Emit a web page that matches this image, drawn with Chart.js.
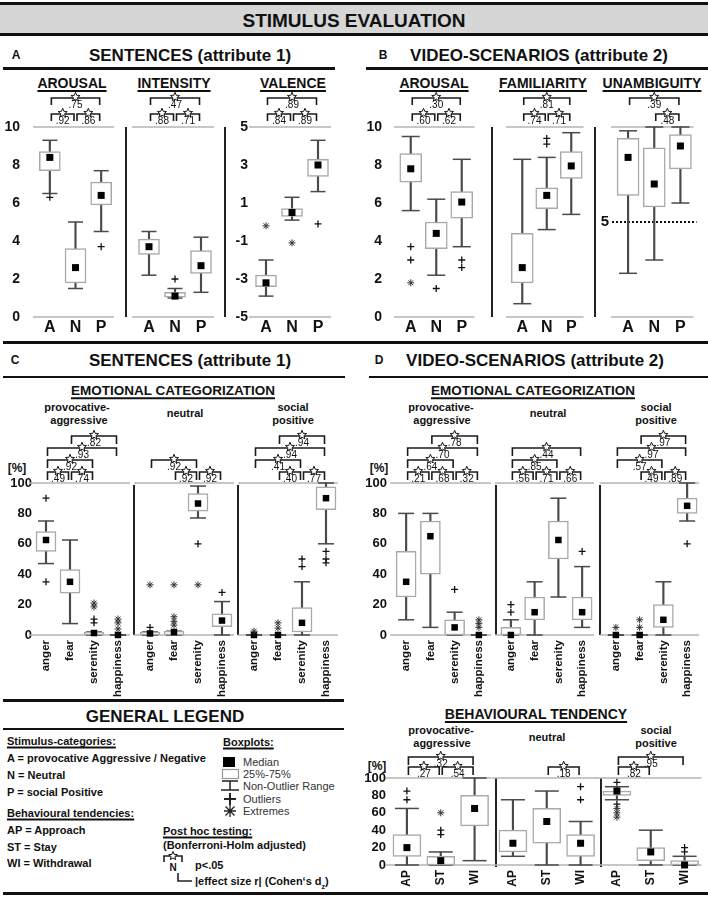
<!DOCTYPE html>
<html>
<head>
<meta charset="utf-8">
<title>Stimulus evaluation</title>
<script src="https://cdn.jsdelivr.net/npm/chart.js@4.4.1/dist/chart.umd.min.js"></script>
<style>
  html, body { margin: 0; padding: 0; background: #fff; }
  #fig { position: relative; width: 708px; height: 898px; overflow: hidden;
         font-family: 'Liberation Sans', Arial, sans-serif; color: #111; }
  .t { position: absolute; white-space: nowrap; transform: translate(-50%, -50%);
       font-weight: bold; line-height: 1; }
  .l { position: absolute; white-space: nowrap; transform: translate(0, -50%);
       font-weight: bold; line-height: 1; font-size: 11px; }
  .r { font-weight: normal; color: #333; }
  .u { text-decoration: underline; text-decoration-thickness: 1.5px; text-underline-offset: 2px; }
  .rule { position: absolute; background: #111; }
  .sep { position: absolute; width: 2px; background: #222; }
  .band { position: absolute; left: 0; top: 2px; width: 708px; height: 28px; background: #d6d6d6;
          border-top: 3px solid #111; border-bottom: 3px solid #111; }
  canvas { position: absolute; }
  svg { position: absolute; left: 0; top: 0; }
</style>
</head>
<body>
<div id="fig">
  <div class="band"></div>
  <div class="t" style="left:354px;top:20px;font-size:19px">STIMULUS EVALUATION</div>

  <!-- A / B headings -->
  <div class="t" style="left:16px;top:55px;font-size:12px">A</div>
  <div class="t" style="left:190px;top:55px;font-size:17px">SENTENCES (attribute 1)</div>
  <div class="t" style="left:383px;top:55px;font-size:12px">B</div>
  <div class="t" style="left:539px;top:55px;font-size:17px">VIDEO-SCENARIOS (attribute 2)</div>
  <div class="rule" style="left:3px;top:67px;width:332px;height:2.5px"></div>
  <div class="rule" style="left:366px;top:67px;width:342px;height:2.5px"></div>

  <div class="t u" style="left:72px;top:83px;font-size:14px">AROUSAL</div>
  <div class="t u" style="left:174px;top:83px;font-size:14px">INTENSITY</div>
  <div class="t u" style="left:293px;top:83px;font-size:14px">VALENCE</div>
  <div class="t u" style="left:434px;top:83px;font-size:14px">AROUSAL</div>
  <div class="t u" style="left:543px;top:83px;font-size:14px">FAMILIARITY</div>
  <div class="t u" style="left:652px;top:83px;font-size:14px">UNAMBIGUITY</div>

  <div class="sep" style="left:125px;top:127px;height:190px"></div>
  <div class="sep" style="left:224px;top:127px;height:190px"></div>
  <div class="sep" style="left:491px;top:127px;height:190px"></div>
  <div class="sep" style="left:594px;top:127px;height:190px"></div>

  <!-- C / D headings -->
  <div class="rule" style="left:3px;top:341px;width:705px;height:2.5px"></div>
  <div class="t" style="left:15px;top:360px;font-size:12px">C</div>
  <div class="t" style="left:190px;top:360px;font-size:17px">SENTENCES (attribute 1)</div>
  <div class="t" style="left:379px;top:360px;font-size:12px">D</div>
  <div class="t" style="left:535px;top:360px;font-size:17px">VIDEO-SCENARIOS (attribute 2)</div>
  <div class="rule" style="left:3px;top:376px;width:342px;height:2px"></div>
  <div class="rule" style="left:369px;top:376px;width:339px;height:2px"></div>

  <div class="t u" style="left:173px;top:391px;font-size:13.5px">EMOTIONAL CATEGORIZATION</div>
  <div class="t u" style="left:533px;top:391px;font-size:13.5px">EMOTIONAL CATEGORIZATION</div>

  <div class="t" style="left:77px;top:407px;font-size:11px">provocative-</div>
  <div class="t" style="left:79px;top:420px;font-size:11px">aggressive</div>
  <div class="t" style="left:185px;top:413px;font-size:11px">neutral</div>
  <div class="t" style="left:293px;top:407px;font-size:11px">social</div>
  <div class="t" style="left:293px;top:420px;font-size:11px">positive</div>
  <div class="t" style="left:441px;top:407px;font-size:11px">provocative-</div>
  <div class="t" style="left:442px;top:420px;font-size:11px">aggressive</div>
  <div class="t" style="left:548px;top:413px;font-size:11px">neutral</div>
  <div class="t" style="left:656px;top:407px;font-size:11px">social</div>
  <div class="t" style="left:656px;top:420px;font-size:11px">positive</div>
  <div class="t" style="left:17px;top:468px;font-size:12px">[%]</div>
  <div class="t" style="left:379px;top:468px;font-size:12px">[%]</div>

  <div class="sep" style="left:133px;top:485px;height:150px"></div>
  <div class="sep" style="left:237px;top:485px;height:150px"></div>
  <div class="sep" style="left:495px;top:485px;height:150px"></div>
  <div class="sep" style="left:599px;top:485px;height:150px"></div>

  <!-- behavioural tendency -->
  <div class="t u" style="left:536px;top:714px;font-size:14px">BEHAVIOURAL TENDENCY</div>
  <div class="t" style="left:441px;top:730px;font-size:11px">provocative-</div>
  <div class="t" style="left:442px;top:743px;font-size:11px">aggressive</div>
  <div class="t" style="left:547px;top:737px;font-size:11px">neutral</div>
  <div class="t" style="left:656px;top:730px;font-size:11px">social</div>
  <div class="t" style="left:656px;top:743px;font-size:11px">positive</div>
  <div class="t" style="left:377px;top:766px;font-size:12px">[%]</div>
  <div class="sep" style="left:495px;top:778px;height:89px"></div>
  <div class="sep" style="left:600px;top:778px;height:89px"></div>

  <!-- general legend -->
  <div class="rule" style="left:3px;top:699px;width:341px;height:2.5px"></div>
  <div class="t" style="left:165px;top:716px;font-size:17px">GENERAL LEGEND</div>
  <div class="rule" style="left:3px;top:728px;width:341px;height:2px"></div>

  <div class="l u" style="left:7px;top:741px">Stimulus-categories:</div>
  <div class="l" style="left:7px;top:758px">A = provocative Aggressive / Negative</div>
  <div class="l" style="left:7px;top:775px">N = Neutral</div>
  <div class="l" style="left:7px;top:792px">P = social Positive</div>
  <div class="l u" style="left:7px;top:813px">Behavioural tendencies:</div>
  <div class="l" style="left:7px;top:830px">AP = Approach</div>
  <div class="l" style="left:7px;top:847px">ST = Stay</div>
  <div class="l" style="left:7px;top:863px">WI = Withdrawal</div>

  <div class="l u" style="left:223px;top:742px">Boxplots:</div>
  <div class="l r" style="left:243px;top:762px">Median</div>
  <div class="l r" style="left:243px;top:774px">25%-75%</div>
  <div class="l r" style="left:243px;top:786px">Non-Outlier Range</div>
  <div class="l r" style="left:243px;top:799px">Outliers</div>
  <div class="l r" style="left:243px;top:811px">Extremes</div>

  <div class="l u" style="left:163px;top:831px">Post hoc testing:</div>
  <div class="l" style="left:163px;top:845px">(Bonferroni-Holm adjusted)</div>
  <div class="t" style="left:173px;top:868px;font-size:10px">N</div>
  <div class="l" style="left:195px;top:865px">p&lt;.05</div>
  <div class="l" style="left:195px;top:883px">|effect size r| (Cohen‘s d<sub style="font-size:7px">z</sub>)</div>

  <div class="rule" style="left:3px;top:892px;width:705px;height:3px"></div>

  <svg width="708" height="898">
    <rect x="223" y="757" width="12" height="10" fill="#000"/>
    <rect x="222.5" y="769.5" width="16" height="9" fill="#fff" stroke="#999" stroke-width="1.2"/>
    <g stroke="#222" stroke-width="1.5" fill="none">
      <path d="M222 781H238M230 781V790M221 790H239"/>
      <path d="M224 799H236M230 793V805" stroke-width="2"/>
      <path d="M224 811H236M230 805V817M225.5 806.5L234.5 815.5M225.5 815.5L234.5 806.5" stroke-width="1.3"/>
      <path d="M164 862V856H182V862" stroke-width="1.6"/>
      <path d="M178 873V881H192" stroke-width="1.6"/>
    </g>
    <polygon points="173,851.5 174.2,854.4 177.3,854.6 174.9,856.6 175.7,859.6 173,858 170.3,859.6 171.1,856.6 168.7,854.6 171.8,854.4"
             fill="#fff" stroke="#111" stroke-width="1"/>
  </svg>
</div>

<script>
/* ── categories and tick labels ── */
const APN = ['A', 'N', 'P'];
const EMOTIONS = ['anger', 'fear', 'serenity', 'happiness'];
const TENDENCIES = ['AP', 'ST', 'WI'];
const TICKS_0_10 = [0, 2, 4, 6, 8, 10];
const TICKS_VALENCE = [-5, -3, -1, 1, 3, 5];
const TICKS_PCT = [0, 20, 40, 60, 80, 100];

/* ── box rows: [low whisker, Q1, median, Q3, high whisker] per category ── */
/* outliers (+) and extremes (*) as [category, value]; post hoc as [from, to, level, |r|] */

// A  sentences
const SENT_AROUSAL = [[6.5, 7.7, 8.4, 8.7, 9.3], [1.5, 1.8, 2.6, 3.6, 5.0], [4.5, 5.9, 6.4, 7.1, 7.7]];
const SENT_AROUSAL_OUT = [['A', 6.3], ['P', 3.7]];
const SENT_AROUSAL_PH = [[0, 1, 0, '.92'], [1, 2, 0, '.86'], [0, 2, 1, '.75']];

const SENT_INTENSITY = [[2.2, 3.3, 3.7, 4.1, 4.5], [1.0, 1.05, 1.1, 1.3, 1.5], [1.3, 2.3, 2.7, 3.5, 4.2]];
const SENT_INTENSITY_OUT = [['N', 2.0]];
const SENT_INTENSITY_PH = [[0, 1, 0, '.88'], [1, 2, 0, '.71'], [0, 2, 1, '.47']];

const SENT_VALENCE = [[-3.9, -3.4, -3.2, -2.8, -2.0], [0.1, 0.3, 0.5, 0.7, 1.3], [1.6, 2.4, 3.0, 3.3, 4.3]];
const SENT_VALENCE_OUT = [['P', -0.1]];
const SENT_VALENCE_EXT = [['A', -0.2], ['N', -1.1]];
const SENT_VALENCE_PH = [[0, 1, 0, '.84'], [1, 2, 0, '.89'], [0, 2, 1, '.89']];

// B  video scenarios
const VID_AROUSAL = [[5.6, 7.1, 7.8, 8.6, 9.5], [2.2, 3.6, 4.4, 5.0, 6.2], [3.7, 5.2, 6.05, 6.6, 8.3]];
const VID_AROUSAL_OUT = [['A', 3.7], ['A', 3.0], ['N', 1.5], ['P', 3.0], ['P', 2.6]];
const VID_AROUSAL_EXT = [['A', 1.8]];
const VID_AROUSAL_PH = [[0, 1, 0, '.60'], [1, 2, 0, '.62'], [0, 2, 1, '.30']];

const VID_FAMILIARITY = [[0.7, 1.8, 2.6, 4.4, 8.3], [4.6, 5.7, 6.4, 6.8, 8.4], [5.4, 7.3, 7.95, 8.7, 9.7]];
const VID_FAMILIARITY_OUT = [['N', 9.4], ['N', 9.1]];
const VID_FAMILIARITY_PH = [[0, 1, 0, '.74'], [1, 2, 0, '.71'], [0, 2, 1, '.81']];

const VID_UNAMBIGUITY = [[2.3, 6.4, 8.4, 9.4, 9.8], [3.0, 5.8, 7.0, 8.9, 10.0], [6.0, 7.8, 9.0, 9.6, 10.0]];
const VID_UNAMBIGUITY_PH = [[1, 2, 0, '.48'], [0, 2, 1, '.39']];
const UNAMBIGUITY_CUTOFF = 5;

// C  sentences, emotional categorization [%]
const SENT_EMO_AGG = [[47, 55, 62.5, 68, 75], [7.5, 27.5, 35, 43, 62.5], [0, 0, 1.3, 2, 2], [0, 0, 0, 0, 0]];
const SENT_EMO_AGG_OUT = [['anger', 90], ['anger', 35], ['serenity', 10.5], ['serenity', 8]];
const SENT_EMO_AGG_EXT = [['serenity', 21], ['serenity', 18.5], ['happiness', 10.5], ['happiness', 8], ['happiness', 4]];
const SENT_EMO_AGG_PH = [[0, 1, 0, '.49'], [1, 2, 0, '.74'], [0, 2, 1, '.92'], [0, 3, 2, '.93'], [1, 3, 3, '.82']];

const SENT_EMO_NEU = [[0, 0, 1, 2, 2], [0, 0, 2, 2.5, 2.5], [77, 81.5, 86.5, 93, 98], [0, 5.5, 9.5, 14, 22]];
const SENT_EMO_NEU_OUT = [['anger', 5], ['serenity', 60], ['happiness', 28]];
const SENT_EMO_NEU_EXT = [['anger', 33], ['fear', 33], ['fear', 12], ['fear', 9], ['fear', 6.5], ['serenity', 33]];
const SENT_EMO_NEU_PH = [[1, 2, 0, '.92'], [2, 3, 0, '.92'], [0, 2, 1, '.92']];

const SENT_EMO_POS = [[0, 0, 0, 0, 0], [0, 0, 0, 0, 0], [0, 2, 8, 18, 35], [60, 82.5, 90, 97.5, 100]];
const SENT_EMO_POS_OUT = [['serenity', 50], ['serenity', 45], ['happiness', 55], ['happiness', 50], ['happiness', 47.5]];
const SENT_EMO_POS_EXT = [['anger', 2.5], ['fear', 8], ['fear', 4.5]];
const SENT_EMO_POS_PH = [[1, 2, 0, '.40'], [2, 3, 0, '.77'], [0, 2, 1, '.41'], [0, 3, 2, '.94'], [1, 3, 3, '.94']];

// D  video scenarios, emotional categorization [%]
const VID_EMO_AGG = [[10, 25, 35, 55, 80], [5, 40, 65, 75, 80], [0, 0, 5, 10, 15], [0, 0, 0, 0, 0]];
const VID_EMO_AGG_OUT = [['serenity', 30]];
const VID_EMO_AGG_EXT = [['happiness', 10], ['happiness', 7.5], ['happiness', 5]];
const VID_EMO_AGG_PH = [[0, 1, 0, '.21'], [1, 2, 0, '.68'], [2, 3, 0, '.32'], [0, 2, 1, '.64'], [0, 3, 2, '.70'], [1, 3, 3, '.78']];

const VID_EMO_NEU = [[0, 0, 0, 5, 10], [0, 10, 15, 25, 35], [25, 50, 62.5, 75, 90], [5, 10, 15, 25, 45]];
const VID_EMO_NEU_OUT = [['anger', 20], ['anger', 15], ['happiness', 55]];
const VID_EMO_NEU_PH = [[0, 1, 0, '.56'], [1, 2, 0, '.71'], [2, 3, 0, '.66'], [0, 2, 1, '.85'], [0, 3, 2, '.44']];

const VID_EMO_POS = [[0, 0, 0, 0, 0], [0, 0, 0, 0, 0], [0, 5, 10, 20, 35], [75, 80, 85, 90, 100]];
const VID_EMO_POS_OUT = [['happiness', 60]];
const VID_EMO_POS_EXT = [['anger', 5], ['fear', 10], ['fear', 5]];
const VID_EMO_POS_PH = [[1, 2, 0, '.49'], [2, 3, 0, '.89'], [0, 2, 1, '.57'], [0, 3, 2, '.97'], [1, 3, 3, '.97']];

// behavioural tendency [%]
const BEH_AGG = [[0, 10, 20, 35, 65], [0, 0, 5, 10, 15], [5, 45, 65, 80, 100]];
const BEH_AGG_OUT = [['AP', 85], ['AP', 75], ['ST', 40], ['ST', 35]];
const BEH_AGG_EXT = [['ST', 60]];
const BEH_AGG_PH = [[0, 1, 0, '.27'], [1, 2, 0, '.54'], [0, 2, 1, '.32']];

const BEH_NEU = [[10, 15, 25, 40, 75], [0, 25, 50, 65, 85], [0, 10, 25, 35, 50]];
const BEH_NEU_OUT = [['WI', 90], ['WI', 75]];
const BEH_NEU_PH = [[1, 2, 0, '.18']];

const BEH_POS = [[75, 80, 85, 85, 90], [0, 5, 15, 20, 40], [0, 0, 0, 5, 10]];
const BEH_POS_OUT = [['AP', 95], ['AP', 70], ['WI', 20], ['WI', 15]];
const BEH_POS_EXT = [['AP', 65], ['AP', 60], ['AP', 55]];
const BEH_POS_PH = [[0, 1, 0, '.82'], [0, 2, 1, '.95']];

/* ── look ── */
Chart.defaults.font.family = "'Liberation Sans', Arial, sans-serif";
Chart.defaults.color = '#111';

const fig = document.getElementById('fig');

/* section geometry (plot top/bottom, bracket spacing, glyph sizes) */
const SEC_A = { y0: 127, y1: 317, padTop: 42, axisH: 24, xPad: 1, rot: 0, xFont: 16, yFont: 14,
                boxW: 21, capW: 15, med: 7, base: 13, step: 16, tick: 7 };
const SEC_B = Object.assign({}, SEC_A, { boxW: 22, capW: 18 });
const SEC_EMO = { y0: 483, y1: 635, padTop: 56, axisH: 62, xPad: 5, rot: 90, xFont: 11.5, yFont: 13,
                  boxW: 20, capW: 16, med: 6.5, base: 11, step: 12, tick: 8 };
const SEC_BEH = { y0: 778, y1: 865, padTop: 30, axisH: 30, xPad: 5, rot: 90, xFont: 12, yFont: 13,
                  boxW: 28, capW: 24, med: 7, base: 11, step: 10, tick: 8 };

/* grey frame lines, cut-off line and post hoc brackets */
function star(ctx, cx, cy, ro, ri) {
  ctx.beginPath();
  for (let k = 0; k < 10; k++) {
    const r = k % 2 ? ri : ro;
    const a = -Math.PI / 2 + k * Math.PI / 5;
    ctx.lineTo(cx + r * Math.cos(a), cy + r * Math.sin(a));
  }
  ctx.closePath();
  ctx.fill();
  ctx.stroke();
}

const decor = {
  id: 'decor',
  beforeDatasetsDraw(chart, args, o) {
    const { ctx, chartArea: a, scales: { y } } = chart;
    ctx.save();
    ctx.strokeStyle = '#b5b5b5';
    ctx.lineWidth = 1.5;
    ctx.beginPath();
    ctx.moveTo(a.left - 4, a.top); ctx.lineTo(a.right, a.top);
    ctx.moveTo(a.left - 4, a.bottom); ctx.lineTo(a.right, a.bottom);
    ctx.stroke();
    if (o.ref != null) {
      const yy = y.getPixelForValue(o.ref);
      ctx.strokeStyle = '#111';
      ctx.lineWidth = 2;
      ctx.setLineDash([2, 2]);
      ctx.beginPath();
      ctx.moveTo(a.left - 3, yy); ctx.lineTo(a.right + 3, yy);
      ctx.stroke();
      ctx.setLineDash([]);
      ctx.fillStyle = '#111';
      ctx.font = "bold 15px 'Liberation Sans', Arial, sans-serif";
      ctx.textAlign = 'right';
      ctx.textBaseline = 'middle';
      ctx.fillText(String(o.ref), a.left - 6, yy);
    }
    ctx.restore();
  },
  afterDraw(chart, args, o) {
    if (!o.posthoc) return;
    const { ctx, chartArea: a, scales: { x } } = chart;
    ctx.save();
    ctx.strokeStyle = '#1a1a1a';
    ctx.lineWidth = 1.6;
    const marks = [];
    for (const [i, j, lvl, r] of o.posthoc) {
      const xa = x.getPixelForValue(i) + 1.5;
      const xb = x.getPixelForValue(j) - 1.5;
      const yy = a.top - o.base - lvl * o.step;
      ctx.beginPath();
      ctx.moveTo(xa, yy + o.tick); ctx.lineTo(xa, yy); ctx.lineTo(xb, yy); ctx.lineTo(xb, yy + o.tick);
      ctx.stroke();
      marks.push([(xa + xb) / 2, yy, r]);
    }
    ctx.fillStyle = '#fff';
    ctx.lineWidth = 1;
    for (const [mx, my] of marks) star(ctx, mx, my - 1, 4.8, 2.1);
    ctx.fillStyle = '#111';
    ctx.font = "10px 'Liberation Sans', Arial, sans-serif";
    ctx.textAlign = 'center';
    ctx.textBaseline = 'middle';
    for (const [mx, my, r] of marks) ctx.fillText(r, mx, my + 7);
    ctx.restore();
  }
};

/* ── one box plot chart ── */
function boxplot(p) {
  const s = p.sec;
  const axisW = p.axis ? p.axis.w : 0;
  const padL = 22, padR = 10;
  const left = p.x0 - axisW - padL;
  const top = s.y0 - s.padTop;
  const w = Math.round(p.x1 + padR - left);
  const h = s.y1 + s.axisH + 2 - top;
  const cv = document.createElement('canvas');
  cv.width = w; cv.height = h;
  cv.style.left = left + 'px'; cv.style.top = top + 'px';
  cv.style.width = w + 'px'; cv.style.height = h + 'px';
  fig.insertBefore(cv, fig.querySelector('svg'));

  const pts = list => list.map(([c, v]) => ({ x: c, y: v }));
  const whisk = '#4a4a4a';
  const datasets = [
    { type: 'bar', data: p.box.map(b => [b[0], b[4]]), backgroundColor: whisk,
      barThickness: 1.5, grouped: false, order: 4, clip: false },
    { type: 'line', data: p.box.flatMap((b, i) => [{ x: p.cats[i], y: b[0] }, { x: p.cats[i], y: b[4] }]),
      showLine: false, pointStyle: 'line', pointRadius: s.capW / 2,
      pointBorderColor: whisk, pointBorderWidth: 1.5, order: 3, clip: false },
    { type: 'bar', data: p.box.map(b => [b[1], b[3]]), backgroundColor: '#fff',
      borderColor: '#a9a9a9', borderWidth: 1.5, borderSkipped: false,
      barThickness: s.boxW, grouped: false, order: 2, clip: false },
    { type: 'line', data: p.box.map(b => b[2]), showLine: false, pointStyle: 'rect',
      pointRadius: s.med / Math.SQRT2, pointBackgroundColor: '#000', pointBorderWidth: 0,
      order: 1, clip: false },
    { type: 'line', data: pts(p.out || []), showLine: false, pointStyle: 'cross',
      pointRadius: 3.5, pointBorderColor: '#111', pointBorderWidth: 1.3, order: 0, clip: false },
    { type: 'line', data: pts(p.ext || []), showLine: false, pointStyle: 'star',
      pointRadius: 3.5, pointBorderColor: '#333', pointBorderWidth: 1, order: 0, clip: false },
  ];

  new Chart(cv, {
    type: 'bar',
    data: { labels: p.cats, datasets },
    options: {
      responsive: false,
      animation: false,
      events: [],
      layout: { padding: { left: padL, right: padR, top: s.padTop, bottom: 2 } },
      plugins: {
        legend: { display: false },
        tooltip: { enabled: false },
        decor: { posthoc: p.ph, base: s.base, step: s.step, tick: s.tick, ref: p.ref },
      },
      scales: {
        x: {
          grid: { display: false, drawTicks: false },
          border: { display: false },
          ticks: { autoSkip: false, minRotation: s.rot, maxRotation: s.rot, padding: s.xPad,
                   color: '#111', font: { size: s.xFont, weight: 'bold' } },
          afterFit: sc => { sc.height = s.axisH; },
        },
        y: {
          display: !!p.axis,
          min: p.ticks[0],
          max: p.ticks[p.ticks.length - 1],
          grid: { display: false, drawTicks: false },
          border: { display: false },
          ticks: { autoSkip: false, padding: p.axis ? p.axis.pad : 0, color: '#111',
                   font: { size: s.yFont, weight: 'bold' } },
          afterBuildTicks: sc => { sc.ticks = p.ticks.map(v => ({ value: v })); },
          afterFit: sc => { sc.width = axisW; },
        },
      },
    },
    plugins: [decor],
  });
}

/* ── A ── */
boxplot({ sec: SEC_A, cats: APN, box: SENT_AROUSAL, out: SENT_AROUSAL_OUT, ph: SENT_AROUSAL_PH,
          ticks: TICKS_0_10, x0: 37, x1: 114, axis: { w: 34, pad: 17 } });
boxplot({ sec: SEC_A, cats: APN, box: SENT_INTENSITY, out: SENT_INTENSITY_OUT, ph: SENT_INTENSITY_PH,
          ticks: TICKS_0_10, x0: 136, x1: 214 });
boxplot({ sec: SEC_A, cats: APN, box: SENT_VALENCE, out: SENT_VALENCE_OUT, ext: SENT_VALENCE_EXT,
          ph: SENT_VALENCE_PH, ticks: TICKS_VALENCE, x0: 253, x1: 331, axis: { w: 24, pad: 5 } });

/* ── B ── */
boxplot({ sec: SEC_B, cats: APN, box: VID_AROUSAL, out: VID_AROUSAL_OUT, ext: VID_AROUSAL_EXT,
          ph: VID_AROUSAL_PH, ticks: TICKS_0_10, x0: 398, x1: 475, axis: { w: 34, pad: 16 } });
boxplot({ sec: SEC_B, cats: APN, box: VID_FAMILIARITY, out: VID_FAMILIARITY_OUT, ph: VID_FAMILIARITY_PH,
          ticks: TICKS_0_10, x0: 510, x1: 584 });
boxplot({ sec: SEC_B, cats: APN, box: VID_UNAMBIGUITY, ph: VID_UNAMBIGUITY_PH, ref: UNAMBIGUITY_CUTOFF,
          ticks: TICKS_0_10, x0: 615, x1: 694 });

/* ── C ── */
boxplot({ sec: SEC_EMO, cats: EMOTIONS, box: SENT_EMO_AGG, out: SENT_EMO_AGG_OUT, ext: SENT_EMO_AGG_EXT,
          ph: SENT_EMO_AGG_PH, ticks: TICKS_PCT, x0: 34, x1: 130, axis: { w: 28, pad: 2 } });
boxplot({ sec: SEC_EMO, cats: EMOTIONS, box: SENT_EMO_NEU, out: SENT_EMO_NEU_OUT, ext: SENT_EMO_NEU_EXT,
          ph: SENT_EMO_NEU_PH, ticks: TICKS_PCT, x0: 138, x1: 234 });
boxplot({ sec: SEC_EMO, cats: EMOTIONS, box: SENT_EMO_POS, out: SENT_EMO_POS_OUT, ext: SENT_EMO_POS_EXT,
          ph: SENT_EMO_POS_PH, ticks: TICKS_PCT, x0: 242, x1: 338 });

/* ── D ── */
boxplot({ sec: SEC_EMO, cats: EMOTIONS, box: VID_EMO_AGG, out: VID_EMO_AGG_OUT, ext: VID_EMO_AGG_EXT,
          ph: VID_EMO_AGG_PH, ticks: TICKS_PCT, x0: 394, x1: 491, axis: { w: 32, pad: 7 } });
boxplot({ sec: SEC_EMO, cats: EMOTIONS, box: VID_EMO_NEU, out: VID_EMO_NEU_OUT,
          ph: VID_EMO_NEU_PH, ticks: TICKS_PCT, x0: 499, x1: 594 });
boxplot({ sec: SEC_EMO, cats: EMOTIONS, box: VID_EMO_POS, out: VID_EMO_POS_OUT, ext: VID_EMO_POS_EXT,
          ph: VID_EMO_POS_PH, ticks: TICKS_PCT, x0: 604, x1: 699 });

/* ── behavioural tendency ── */
boxplot({ sec: SEC_BEH, cats: TENDENCIES, box: BEH_AGG, out: BEH_AGG_OUT, ext: BEH_AGG_EXT,
          ph: BEH_AGG_PH, ticks: TICKS_PCT, x0: 389.5, x1: 494.5, axis: { w: 30, pad: 4 } });
boxplot({ sec: SEC_BEH, cats: TENDENCIES, box: BEH_NEU, out: BEH_NEU_OUT,
          ph: BEH_NEU_PH, ticks: TICKS_PCT, x0: 495.5, x1: 600.5 });
boxplot({ sec: SEC_BEH, cats: TENDENCIES, box: BEH_POS, out: BEH_POS_OUT, ext: BEH_POS_EXT,
          ph: BEH_POS_PH, ticks: TICKS_PCT, x0: 599.5, x1: 704.5 });
</script>
</body>
</html>
